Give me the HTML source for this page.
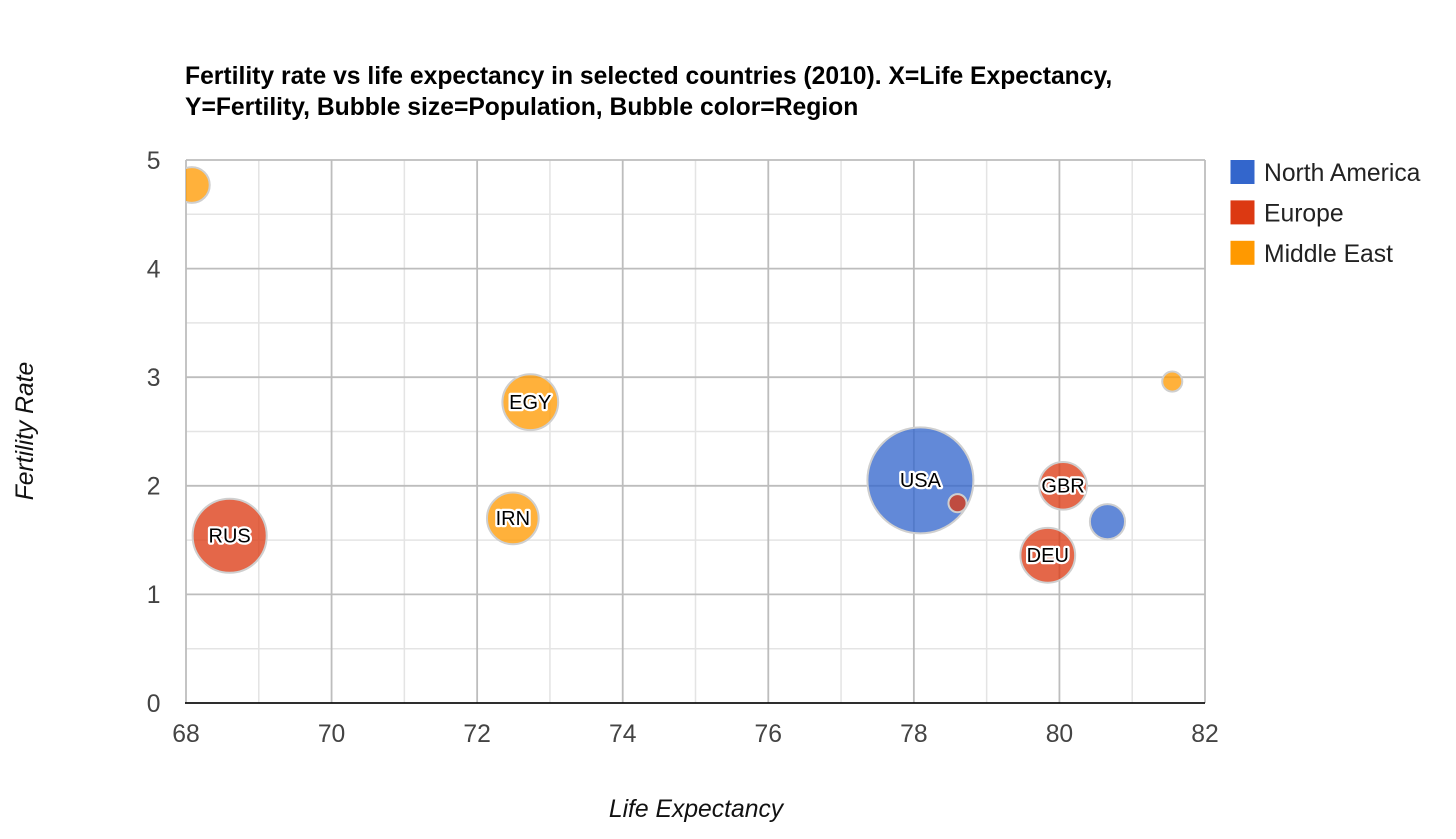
<!DOCTYPE html>
<html>
<head>
<meta charset="utf-8">
<style>
html,body{margin:0;padding:0;background:#fff;width:1456px;height:839px;overflow:hidden}
svg{display:block;font-family:"Liberation Sans",Arial,sans-serif}
</style>
</head>
<body>
<svg id="chart" width="1456" height="839" viewBox="0 0 1456 839">
<defs><clipPath id="plot-clip"><rect x="186" y="159" width="1020" height="545"/></clipPath></defs>
<g font-size="24.68" font-weight="bold" fill="#000">
<text x="185" y="84">Fertility rate vs life expectancy in selected countries (2010). X=Life Expectancy,</text>
<text x="185" y="115">Y=Fertility, Bubble size=Population, Bubble color=Region</text>
</g>
<g id="grid"></g>
<g id="bubbles" clip-path="url(#plot-clip)"></g>
<g id="labels"></g>
<g id="xticks"></g>
<g id="yticks"></g>
<text x="696" y="817" text-anchor="middle" font-size="24.7" font-style="italic" fill="#111">Life Expectancy</text>
<text transform="translate(33 431) rotate(-90)" text-anchor="middle" font-size="24.7" font-style="italic" fill="#111">Fertility Rate</text>
<g id="legend"></g>
</svg>
<script>
const xTickValues = [68, 70, 72, 74, 76, 78, 80, 82];
const yTickValues = [0, 1, 2, 3, 4, 5];
const regions = ["North America", "Europe", "Middle East"];
const countries = ["CAN", "DEU", "GBR", "IRQ", "IRN", "ISR", "RUS", "EGY", "USA", "BLR"];
const labelsShown = ["", "DEU", "GBR", "", "IRN", "", "RUS", "EGY", "USA", ""];
const lifeExpectancy = [80.66, 79.84, 80.05, 68.08, 72.49, 81.55, 68.6, 72.73, 78.09, 78.6];
const fertility = [1.67, 1.36, 2.0, 4.77, 1.70, 2.96, 1.54, 2.77, 2.05, 1.84];
const bubbleRegion = [0, 1, 1, 2, 2, 2, 1, 2, 0, 1];
const population = [33.7, 82, 62, 35, 73, 11, 150, 85, 307, 9];

const NS = "http://www.w3.org/2000/svg";
const regionColors = ["#3366cc", "#dc3912", "#ff9900"];
const plot = {left: 186, right: 1205, top: 160, bottom: 703};
const xMin = 68, xMax = 82, yMin = 0, yMax = 5;
function xScale(v) { return plot.left + (v - xMin) / (xMax - xMin) * (plot.right - plot.left); }
function yScale(v) { return plot.bottom - (v - yMin) / (yMax - yMin) * (plot.bottom - plot.top); }
function rScale(p) { return 53 * Math.sqrt(p / Math.max.apply(null, population)); }
function make(tag, attrs, parent) {
  const el = document.createElementNS(NS, tag);
  for (const k in attrs) el.setAttribute(k, attrs[k]);
  parent.appendChild(el);
  return el;
}
const grid = document.getElementById("grid");
xTickValues.forEach(function (t, i) {
  if (i < xTickValues.length - 1) {
    const minorV = make("line", {x1: xScale((t + xTickValues[i + 1]) / 2), x2: xScale((t + xTickValues[i + 1]) / 2), y1: plot.top, y2: plot.bottom, stroke: "#e4e4e4", "stroke-width": 1.5}, grid);
    
    
  }
});
yTickValues.forEach(function (t, i) {
  if (i < yTickValues.length - 1) {
    const minorH = make("line", {x1: plot.left, x2: plot.right, y1: yScale((t + yTickValues[i + 1]) / 2), y2: yScale((t + yTickValues[i + 1]) / 2), stroke: "#e4e4e4", "stroke-width": 1.5}, grid);
    
    
  }
});
xTickValues.forEach(function (t) {
  const majorV = make("line", {x1: xScale(t), x2: xScale(t), y1: plot.top, y2: plot.bottom, stroke: "#bdbdbd", "stroke-width": 1.8}, grid);
  
  
  const label = make("text", {x: xScale(t), y: 742, "text-anchor": "middle", "font-size": 24.7, fill: "#444"}, document.getElementById("xticks"));
  
  
  label.textContent = t;
});
yTickValues.forEach(function (t) {
  if (t !== yMin) {
    const majorH = make("line", {x1: plot.left, x2: plot.right, y1: yScale(t), y2: yScale(t), stroke: "#bdbdbd", "stroke-width": 1.8}, grid);
    
    
  }
  const label = make("text", {x: 160.5, y: yScale(t) + 8.8, "text-anchor": "end", "font-size": 24.7, fill: "#444"}, document.getElementById("yticks"));
  
  
  label.textContent = t;
});
const baseline = make("line", {x1: plot.left - 1, x2: plot.right, y1: plot.bottom, y2: plot.bottom, stroke: "#111", "stroke-width": 1.8}, grid);



const bubbleOrder = lifeExpectancy.map(function (_, i) { return i; }).sort(function (a, b) { return population[b] - population[a]; });
bubbleOrder.forEach(function (i) {
  const c = make("circle", {cx: xScale(lifeExpectancy[i]), cy: yScale(fertility[i]), r: rScale(population[i]), fill: regionColors[bubbleRegion[i]], "fill-opacity": 0.77, stroke: "#cfcfcf", "stroke-width": 2}, document.getElementById("bubbles"));
  
  
});
labelsShown.forEach(function (name, i) {
  if (!name) return;
  const t = make("text", {x: xScale(lifeExpectancy[i]), y: yScale(fertility[i]) + 6.8, "text-anchor": "middle", "font-size": 20, fill: "#000", stroke: "#fff", "stroke-width": 4.5, "stroke-linejoin": "round", "paint-order": "stroke"}, document.getElementById("labels"));
  
  
  t.textContent = name;
});
regions.forEach(function (name, i) {
  const rowTop = 160 + i * 40.4;
  const swatch = make("rect", {x: 1230.5, y: rowTop, width: 24, height: 24, fill: regionColors[i]}, document.getElementById("legend"));
  
  
  const label = make("text", {x: 1264, y: rowTop + 21, "font-size": 24.7, fill: "#222"}, document.getElementById("legend"));
  
  
  label.textContent = name;
});
</script>
</body>
</html>
